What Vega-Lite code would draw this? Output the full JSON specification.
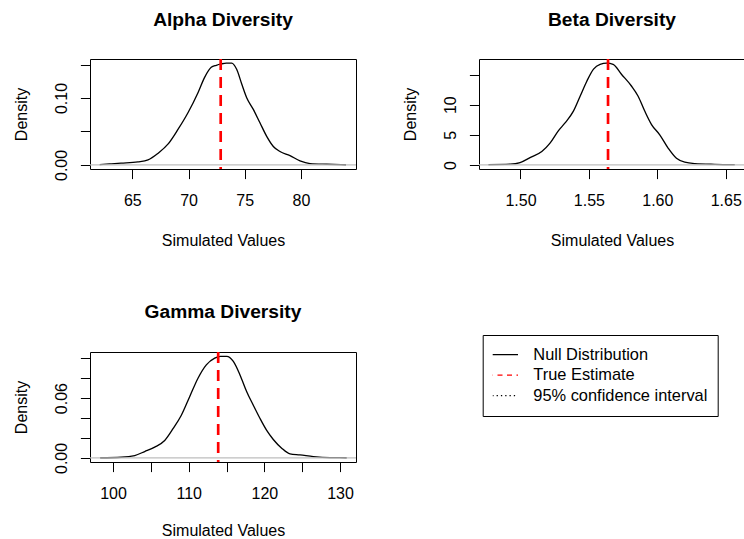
{
  "$schema": "https://vega.github.io/schema/vega-lite/v6.json",
  "autosize": {"type": "none"},
  "padding": {"left": 90, "top": 59, "right": 654, "bottom": 480},
  "background": "white",
  "columns": 2,
  "bounds": "flush",
  "spacing": {"row": 183, "column": 123},
  "resolve": {"scale": {"color": "independent"}, "legend": {"color": "independent"}},
  "datasets": {
    "alpha": [
      {"x": 62.1, "d": 0.0005}, {"x": 63.0, "d": 0.0015}, {"x": 64.0, "d": 0.0026}, {"x": 65.5, "d": 0.0045},
      {"x": 66.4, "d": 0.0075}, {"x": 67.3, "d": 0.0176}, {"x": 68.17, "d": 0.031}, {"x": 69.06, "d": 0.053},
      {"x": 69.95, "d": 0.078}, {"x": 70.84, "d": 0.108}, {"x": 71.43, "d": 0.131}, {"x": 72.02, "d": 0.146},
      {"x": 72.47, "d": 0.149}, {"x": 72.9, "d": 0.151}, {"x": 73.36, "d": 0.1523}, {"x": 73.84, "d": 0.1523},
      {"x": 74.28, "d": 0.143}, {"x": 74.73, "d": 0.121}, {"x": 75.17, "d": 0.1006}, {"x": 75.76, "d": 0.083},
      {"x": 76.35, "d": 0.063}, {"x": 76.95, "d": 0.0427}, {"x": 77.54, "d": 0.0276}, {"x": 78.13, "d": 0.02},
      {"x": 79.02, "d": 0.014}, {"x": 79.91, "d": 0.006}, {"x": 80.8, "d": 0.002}, {"x": 82.28, "d": 0.001},
      {"x": 84.0, "d": 0.0003}
    ],
    "beta": [
      {"x": 1.4766, "d": 0.05}, {"x": 1.4924, "d": 0.12}, {"x": 1.4997, "d": 0.39}, {"x": 1.507, "d": 1.22},
      {"x": 1.5156, "d": 2.22}, {"x": 1.5216, "d": 3.62}, {"x": 1.5278, "d": 5.69}, {"x": 1.5326, "d": 6.97},
      {"x": 1.5387, "d": 8.92}, {"x": 1.5436, "d": 11.4}, {"x": 1.5485, "d": 13.9}, {"x": 1.5534, "d": 15.9},
      {"x": 1.5582, "d": 16.7}, {"x": 1.5631, "d": 16.9}, {"x": 1.5677, "d": 16.7}, {"x": 1.5738, "d": 15.05},
      {"x": 1.5811, "d": 13.1}, {"x": 1.586, "d": 11.4}, {"x": 1.5909, "d": 8.9}, {"x": 1.5958, "d": 6.7},
      {"x": 1.6018, "d": 5.0}, {"x": 1.6079, "d": 2.8}, {"x": 1.614, "d": 1.1}, {"x": 1.6201, "d": 0.45},
      {"x": 1.6274, "d": 0.22}, {"x": 1.642, "d": 0.1}, {"x": 1.6566, "d": 0.05}
    ],
    "gamma": [
      {"x": 98.3, "d": 0.0002}, {"x": 101.1, "d": 0.0007}, {"x": 102.87, "d": 0.0024}, {"x": 104.19, "d": 0.0064},
      {"x": 105.51, "d": 0.0108}, {"x": 106.83, "d": 0.0175}, {"x": 107.93, "d": 0.0293}, {"x": 109.03, "d": 0.0428},
      {"x": 110.13, "d": 0.0614}, {"x": 111.23, "d": 0.08}, {"x": 112.33, "d": 0.0934}, {"x": 113.44, "d": 0.1002},
      {"x": 114.2, "d": 0.1019}, {"x": 115.03, "d": 0.1019}, {"x": 115.9, "d": 0.0968}, {"x": 116.78, "d": 0.0833},
      {"x": 117.67, "d": 0.0665}, {"x": 118.54, "d": 0.0529}, {"x": 119.43, "d": 0.0395}, {"x": 120.31, "d": 0.0276},
      {"x": 121.18, "d": 0.0185}, {"x": 122.29, "d": 0.0098}, {"x": 123.39, "d": 0.004}, {"x": 124.71, "d": 0.003},
      {"x": 126.47, "d": 0.0013}, {"x": 128.68, "d": 0.0003}, {"x": 130.88, "d": 0.0002}
    ],
    "alphaTrue": [{"v": 72.86}],
    "betaTrue": [{"v": 1.564}],
    "gammaTrue": [{"v": 113.9}]
  },
  "concat": [
    {
      "title": {"text": "Alpha Diversity", "offset": 27},
      "width": 266,
      "height": 110,
      "layer": [
        {
          "data": {"name": "alpha"},
          "mark": {"type": "line", "color": "black", "strokeWidth": 1.33, "interpolate": "monotone"},
          "encoding": {
            "x": {"field": "x", "type": "quantitative", "scale": {"domain": [61.24, 84.89], "nice": false, "zero": false},
                  "axis": {"title": "Simulated Values", "values": [65, 70, 75, 80], "format": "d", "tickCount": 20}},
            "y": {"field": "d", "type": "quantitative", "scale": {"domain": [-0.0061, 0.1584], "nice": false, "zero": false},
                  "axis": {"title": "Density", "values": [0, 0.05, 0.1, 0.15], "format": ".2f", "tickCount": 20,
                           "labelExpr": "datum.value == 0 || datum.value == 0.1 ? datum.label : ''"}}
          }
        },
        {
          "data": {"name": "alphaTrue"},
          "mark": {"type": "rule", "color": "#BEBEBE", "strokeWidth": 1.3},
          "encoding": {"y": {"datum": 0}}
        },
        {
          "data": {"name": "alphaTrue"},
          "mark": {"type": "rule", "color": "red", "strokeWidth": 2.67, "strokeDash": [11, 7]},
          "encoding": {"x": {"field": "v", "type": "quantitative"}}
        }
      ]
    },
    {
      "title": {"text": "Beta Diversity", "offset": 27},
      "width": 266,
      "height": 110,
      "layer": [
        {
          "data": {"name": "beta"},
          "mark": {"type": "line", "strokeWidth": 1.33, "interpolate": "monotone"},
          "encoding": {
            "x": {"field": "x", "type": "quantitative", "scale": {"domain": [1.4697, 1.6641], "nice": false, "zero": false},
                  "axis": {"title": "Simulated Values", "values": [1.5, 1.55, 1.6, 1.65], "format": ".2f", "tickCount": 20}},
            "y": {"field": "d", "type": "quantitative", "scale": {"domain": [-0.676, 17.58], "nice": false, "zero": false},
                  "axis": {"title": "Density", "values": [0, 5, 10, 15], "format": "d", "tickCount": 20,
                           "labelExpr": "datum.value < 12 ? datum.label : ''"}},
            "color": {"datum": "Null Distribution", "type": "nominal",
                      "scale": {"domain": ["Null Distribution", "True Estimate", "95% confidence interval"], "range": ["black", "red", "black"]},
                      "legend": {
                        "orient": "none", "legendX": 3.7, "legendY": 276, "title": null,
                        "symbolType": "stroke", "symbolSize": 900, "symbolStrokeWidth": 1.3, "symbolOffset": -5.7,
                        "clipHeight": 19.2, "rowPadding": 0.5, "labelOffset": 14.3,
                        "labelFontSize": 16.4, "labelFont": "Liberation Sans", "labelColor": "black", "labelLimit": 400,
                        "padding": 10, "strokeColor": "black", "fillColor": "white", "cornerRadius": 0,
                        "encode": {"symbols": {"update": {"strokeDash": {"signal": "datum.value === 'True Estimate' ? [5, 4.5] : datum.value === '95% confidence interval' ? [1.3, 3] : [1, 0]"}}}}
                      }}
          }
        },
        {
          "data": {"name": "betaTrue"},
          "mark": {"type": "rule", "color": "#BEBEBE", "strokeWidth": 1.3},
          "encoding": {"y": {"datum": 0}}
        },
        {
          "data": {"name": "betaTrue"},
          "mark": {"type": "rule", "strokeWidth": 2.67, "strokeDash": [11, 7]},
          "encoding": {"x": {"field": "v", "type": "quantitative"}, "color": {"datum": "True Estimate", "type": "nominal"}}
        }
      ]
    },
    {
      "title": {"text": "Gamma Diversity", "offset": 28},
      "width": 266,
      "height": 110,
      "layer": [
        {
          "data": {"name": "gamma"},
          "mark": {"type": "line", "color": "black", "strokeWidth": 1.33, "interpolate": "monotone"},
          "encoding": {
            "x": {"field": "x", "type": "quantitative", "scale": {"domain": [96.96, 132.11], "nice": false, "zero": false},
                  "axis": {"title": "Simulated Values", "values": [100, 105, 110, 115, 120, 125, 130], "format": "d", "tickCount": 20,
                           "titleY": 73.5,
                           "labelExpr": "datum.value % 10 == 0 ? datum.label : ''"}},
            "y": {"field": "d", "type": "quantitative", "scale": {"domain": [-0.0041, 0.1063], "nice": false, "zero": false},
                  "axis": {"title": "Density", "values": [0, 0.02, 0.04, 0.06, 0.08, 0.1], "format": ".2f", "tickCount": 20,
                           "labelExpr": "datum.value == 0 || datum.value == 0.06 ? datum.label : ''"}}
          }
        },
        {
          "data": {"name": "gammaTrue"},
          "mark": {"type": "rule", "color": "#BEBEBE", "strokeWidth": 1.3},
          "encoding": {"y": {"datum": 0}}
        },
        {
          "data": {"name": "gammaTrue"},
          "mark": {"type": "rule", "color": "red", "strokeWidth": 2.67, "strokeDash": [11, 7]},
          "encoding": {"x": {"field": "v", "type": "quantitative"}}
        }
      ]
    }
  ],
  "config": {
    "font": "Liberation Sans",
    "view": {"stroke": "black", "strokeWidth": 1},
    "axis": {
      "grid": false, "domain": false, "tickColor": "black", "tickSize": 9.6, "tickWidth": 1,
      "labelFont": "Liberation Sans", "labelFontSize": 16, "labelColor": "black",
      "titleFont": "Liberation Sans", "titleFontSize": 16, "titleFontWeight": "normal", "titleColor": "black",
      "labelOverlap": false, "labelFlush": false, "labelBound": false
    },
    "axisX": {"labelBaseline": "alphabetic", "labelPadding": 27.1, "titleBaseline": "alphabetic", "titleY": 76},
    "axisY": {"labelAngle": 270, "labelAlign": "center", "labelBaseline": "alphabetic", "labelPadding": 13.7,
              "titleAngle": 270, "titleBaseline": "alphabetic", "titleX": -63.5},
    "title": {"fontSize": 19.2, "fontWeight": "bold", "font": "Liberation Sans", "color": "black",
              "baseline": "alphabetic", "offset": 27, "anchor": "middle", "frame": "group"}
  }
}
